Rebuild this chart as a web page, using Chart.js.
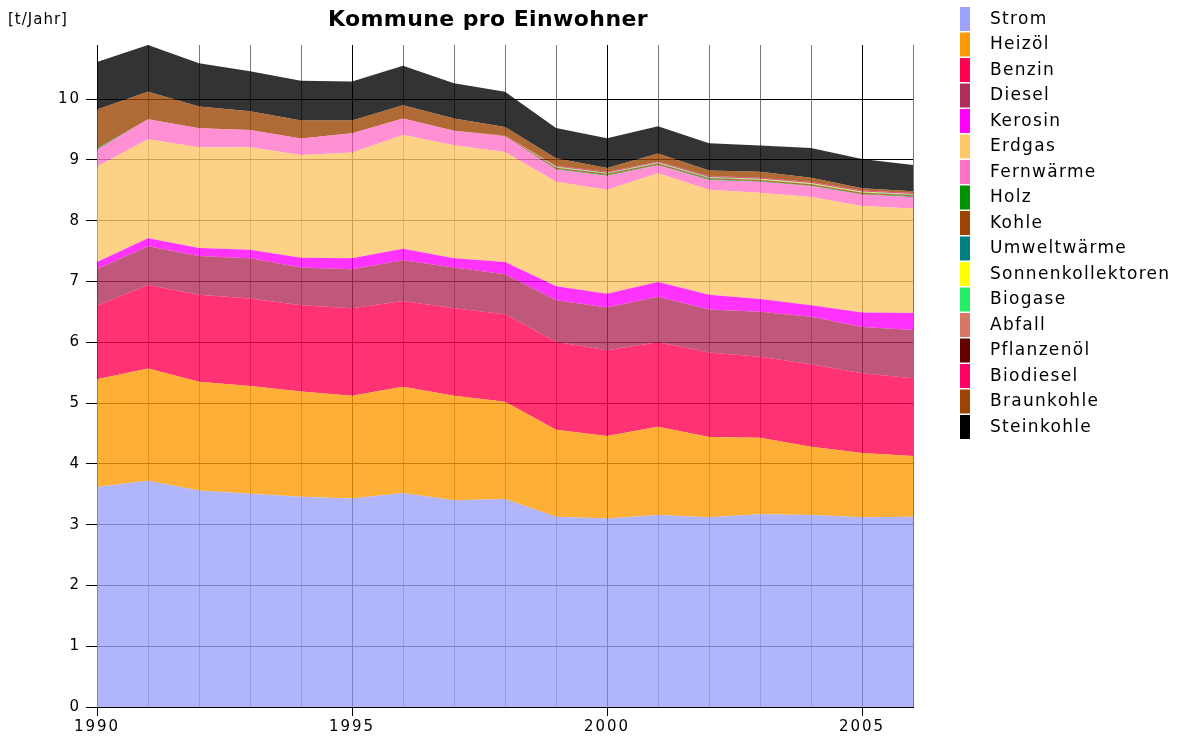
<!DOCTYPE html>
<html>
<head>
<meta charset="utf-8">
<script src="https://cdn.jsdelivr.net/npm/chart.js@4/dist/chart.umd.min.js"></script>
<style>
  html, body { margin: 0; padding: 0; background: #fff; }
  canvas { display: block; }
</style>
</head>
<body>
<canvas id="energyChart" width="1179" height="737"></canvas>
<script>
// Kommune pro Einwohner, t/Jahr, stacked by energy carrier
const years = [1990, 1991, 1992, 1993, 1994, 1995, 1996, 1997, 1998, 1999, 2000, 2001, 2002, 2003, 2004, 2005, 2006];

const strom       = [3.62, 3.72, 3.56, 3.51, 3.46, 3.43, 3.52, 3.40, 3.42, 3.13, 3.10, 3.16, 3.12, 3.17, 3.16, 3.12, 3.13];
const heizoel     = [1.77, 1.85, 1.79, 1.77, 1.73, 1.69, 1.75, 1.72, 1.60, 1.43, 1.36, 1.45, 1.32, 1.26, 1.12, 1.06, 1.00];
const benzin      = [1.21, 1.37, 1.43, 1.44, 1.42, 1.44, 1.41, 1.44, 1.44, 1.45, 1.41, 1.39, 1.39, 1.33, 1.36, 1.31, 1.28];
const diesel      = [0.60, 0.64, 0.64, 0.66, 0.62, 0.64, 0.67, 0.67, 0.66, 0.68, 0.70, 0.75, 0.71, 0.74, 0.78, 0.76, 0.79];
const kerosin     = [0.12, 0.13, 0.13, 0.14, 0.16, 0.18, 0.19, 0.15, 0.20, 0.23, 0.23, 0.24, 0.24, 0.21, 0.19, 0.24, 0.28];
const erdgas      = [1.57, 1.63, 1.66, 1.69, 1.69, 1.74, 1.87, 1.86, 1.81, 1.72, 1.71, 1.79, 1.73, 1.75, 1.78, 1.75, 1.72];
const fernwaerme  = [0.28, 0.33, 0.31, 0.28, 0.27, 0.32, 0.27, 0.24, 0.26, 0.20, 0.23, 0.13, 0.16, 0.18, 0.18, 0.19, 0.19];
const holz        = [0.02, 0, 0, 0, 0, 0, 0, 0, 0, 0.01, 0.01, 0.01, 0.01, 0.01, 0.01, 0.01, 0.01];
const kohle       = [0, 0, 0, 0, 0, 0, 0, 0, 0.01, 0.02, 0.02, 0.02, 0.02, 0.02, 0.02, 0.02, 0.02];
const umwelt      = [0, 0, 0, 0, 0, 0, 0, 0, 0, 0.005, 0.005, 0.005, 0.005, 0.005, 0.005, 0.005, 0.005];
const sonnen      = [0, 0, 0, 0, 0, 0, 0, 0, 0, 0.005, 0.005, 0.005, 0.005, 0.005, 0.005, 0.005, 0.005];
const biogase     = [0, 0, 0, 0, 0, 0, 0, 0, 0, 0.005, 0.005, 0.005, 0.005, 0.005, 0.005, 0.005, 0.005];
const abfall      = [0, 0, 0, 0, 0, 0, 0, 0, 0, 0.005, 0.005, 0.005, 0.005, 0.005, 0.005, 0.005, 0.005];
const pflanzenoel = [0, 0, 0, 0, 0, 0, 0, 0, 0, 0.005, 0.005, 0.005, 0.005, 0.005, 0.005, 0.005, 0.005];
const biodiesel   = [0, 0, 0, 0, 0, 0, 0, 0, 0, 0.01, 0.01, 0.01, 0.01, 0.01, 0.01, 0.01, 0.01];
const braunkohle  = [0.64, 0.45, 0.36, 0.31, 0.30, 0.21, 0.22, 0.20, 0.14, 0.12, 0.06, 0.13, 0.09, 0.10, 0.07, 0.04, 0.03];
const steinkohle  = [0.78, 0.77, 0.71, 0.66, 0.65, 0.64, 0.65, 0.58, 0.58, 0.50, 0.49, 0.45, 0.45, 0.43, 0.49, 0.48, 0.43];

const seriesNames = ['Strom', 'Heizöl', 'Benzin', 'Diesel', 'Kerosin', 'Erdgas', 'Fernwärme', 'Holz', 'Kohle',
    'Umweltwärme', 'Sonnenkollektoren', 'Biogase', 'Abfall', 'Pflanzenöl', 'Biodiesel', 'Braunkohle', 'Steinkohle'];
const seriesValues = [strom, heizoel, benzin, diesel, kerosin, erdgas, fernwaerme, holz, kohle,
    umwelt, sonnen, biogase, abfall, pflanzenoel, biodiesel, braunkohle, steinkohle];
const seriesColors = ['#9da3fb', '#fc9c03', '#ff0050', '#b02e5a', '#ff00ff', '#fec768', '#ff74c9', '#009000', '#9c4502',
    '#008080', '#ffff00', '#22ee66', '#d87766', '#660000', '#ff0066', '#9c4502', '#000000'];

const unitLabel = '[t/Jahr]';
const chartTitle = 'Kommune pro Einwohner';

// top of the stack sets the y range
const totals = years.map((_, i) => seriesValues.reduce((s, arr) => s + arr[i], 0));
const yMax = Math.max(...totals);

const datasets = seriesNames.map((name, i) => ({
    label: name,
    data: seriesValues[i],
    backgroundColor: seriesColors[i] + 'cc',
    borderColor: 'transparent',
    borderWidth: 0,
    pointRadius: 0,
    pointHoverRadius: 0,
    tension: 0,
    fill: i === 0 ? 'origin' : '-1'
}));

// title, unit and legend drawn by hand to sit where the original has them
const decorations = {
    id: 'decorations',
    beforeDraw(chart) {
        chart.ctx.letterSpacing = '2px';
    },
    afterDraw(chart) {
        const ctx = chart.ctx;
        ctx.save();
        ctx.fillStyle = '#000';
        ctx.textBaseline = 'middle';

        ctx.letterSpacing = '0.4px';
        ctx.font = 'bold 22px "DejaVu Sans"';
        ctx.textAlign = 'center';
        ctx.fillText(chartTitle, 488, 20);

        ctx.letterSpacing = '1px';
        ctx.font = '15px "DejaVu Sans"';
        ctx.textAlign = 'left';
        ctx.fillText(unitLabel, 8, 20);

        ctx.letterSpacing = '1.3px';
        ctx.font = '17px "DejaVu Sans"';
        seriesNames.forEach((name, i) => {
            const top = 7 + i * 25.5;
            ctx.fillStyle = seriesColors[i];
            ctx.fillRect(960, top, 10, 24);
            ctx.fillStyle = '#000';
            ctx.fillText(name, 990, top + 12.5);
        });
        ctx.restore();
        ctx.letterSpacing = '0px';
    }
};

const ctx = document.getElementById('energyChart').getContext('2d');
const energyChart = new Chart(ctx, {
    type: 'line',
    data: {
        labels: years,
        datasets: datasets
    },
    options: {
        responsive: false,
        animation: false,
        devicePixelRatio: 1,
        layout: {
            padding: { top: 45, right: 266, left: 0, bottom: 0 }
        },
        plugins: {
            legend: { display: false },
            title: { display: false },
            tooltip: { enabled: false }
        },
        scales: {
            x: {
                offset: false,
                afterFit: (scale) => { scale.height = 30; },
                grid: {
                    offset: false,
                    color: (c) => (years[c.index] % 5 === 0 ? '#000' : '#777'),
                    tickColor: (c) => (years[c.index] % 5 === 0 ? '#000' : 'rgba(0,0,0,0)'),
                    tickLength: 9,
                    lineWidth: 1
                },
                border: { color: '#000', width: 1 },
                ticks: {
                    autoSkip: false,
                    maxRotation: 0,
                    padding: 2,
                    color: '#000',
                    font: { family: 'DejaVu Sans', size: 15 },
                    callback: (value, index) => (years[index] % 5 === 0 ? String(years[index]) : '')
                }
            },
            y: {
                stacked: true,
                min: 0,
                max: yMax,
                afterFit: (scale) => { scale.width = 97; },
                grid: {
                    color: '#000',
                    tickColor: '#000',
                    tickLength: 11,
                    lineWidth: 1
                },
                border: { color: '#000', width: 1 },
                ticks: {
                    stepSize: 1,
                    includeBounds: false,
                    padding: 5,
                    color: '#000',
                    font: { family: 'DejaVu Sans', size: 15 }
                }
            }
        }
    },
    plugins: [decorations]
});
</script>
</body>
</html>
